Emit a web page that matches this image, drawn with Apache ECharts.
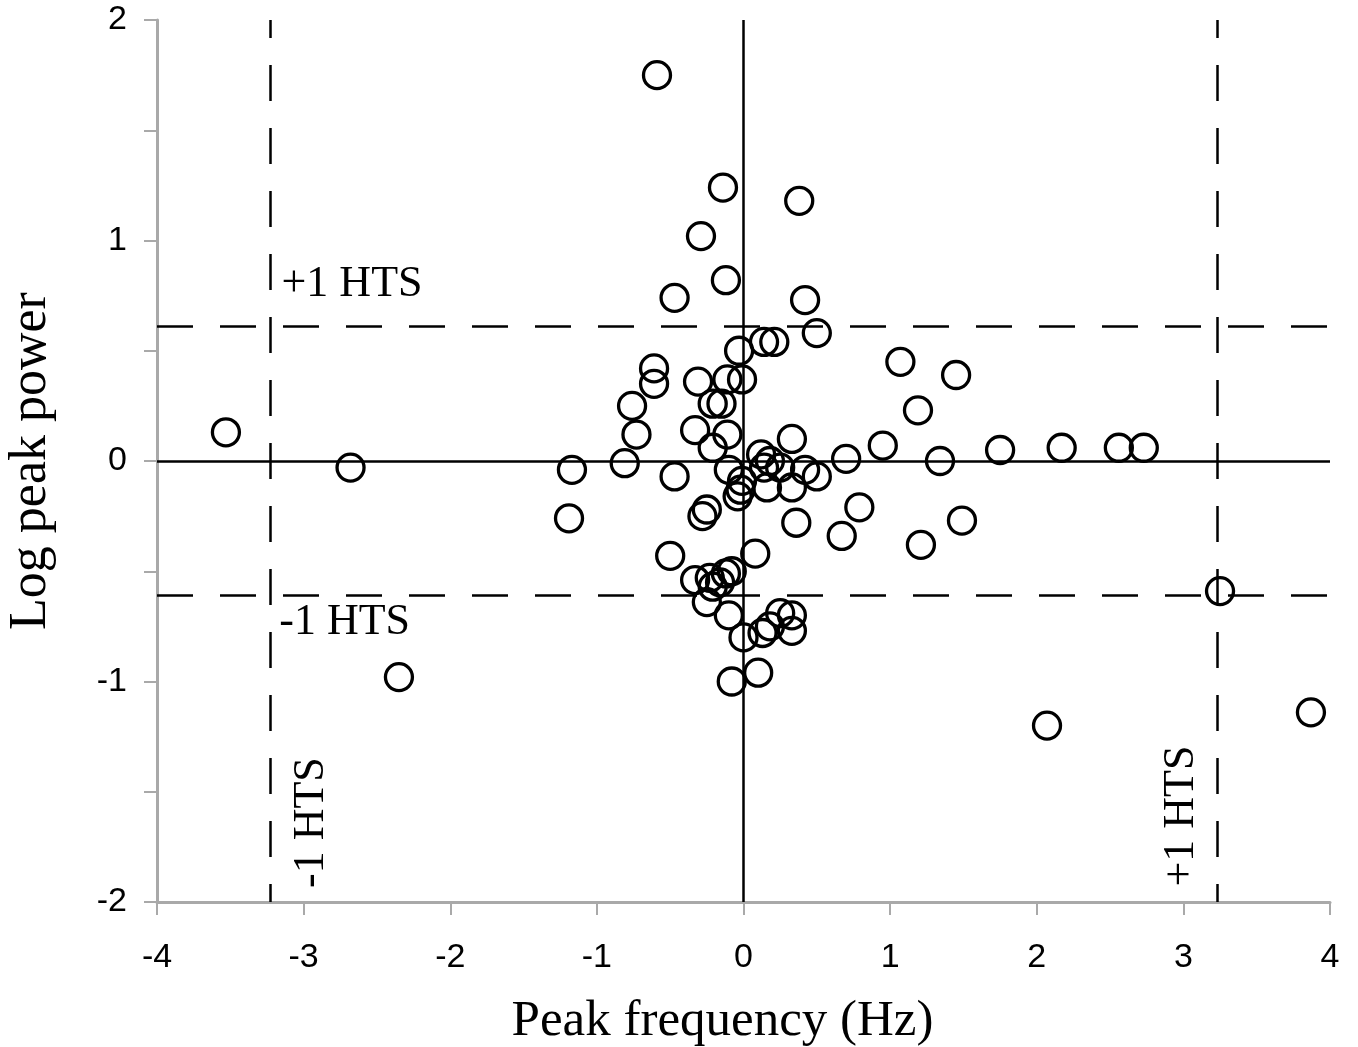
<!DOCTYPE html>
<html><head><meta charset="utf-8">
<script src="https://cdn.jsdelivr.net/npm/echarts@6/dist/echarts.min.js"></script>
<style>html,body{margin:0;padding:0;background:#fff}#c{width:1358px;height:1047px}</style>
</head><body><div id="c"></div>
<script>
const peakFreq = [-0.59,-0.14,0.38,-0.29,-0.12,-0.47,0.42,0.50,0.14,0.21,-0.03,1.07,1.45,-0.61,-0.61,-0.31,-0.11,-0.01,-0.21,-0.15,-0.76,1.19,-0.73,-0.33,-0.11,-0.21,0.33,-3.53,-2.68,-1.17,-1.19,-0.81,-0.47,0.95,0.70,1.75,2.17,2.56,2.73,1.34,0.12,0.18,0.14,0.25,0.42,0.50,-0.01,-0.02,0.16,0.33,-0.04,-0.10,-0.25,-0.28,0.36,0.79,0.67,1.49,1.21,-0.50,0.08,-0.33,-0.23,-0.16,-0.12,-0.08,-0.21,-0.25,-0.10,0.25,0.33,0.33,0.13,0.18,0.00,0.10,-0.08,3.25,-2.35,2.07,3.87];
const logPower = [1.75,1.24,1.18,1.02,0.82,0.74,0.73,0.58,0.54,0.54,0.50,0.45,0.39,0.42,0.35,0.36,0.37,0.37,0.26,0.26,0.25,0.23,0.12,0.14,0.12,0.06,0.10,0.13,-0.03,-0.04,-0.26,-0.01,-0.07,0.07,0.01,0.05,0.06,0.06,0.06,0.00,0.03,0.00,-0.03,-0.03,-0.04,-0.07,-0.09,-0.13,-0.12,-0.12,-0.16,-0.04,-0.22,-0.25,-0.28,-0.21,-0.34,-0.27,-0.38,-0.43,-0.42,-0.54,-0.53,-0.55,-0.51,-0.50,-0.57,-0.64,-0.70,-0.69,-0.70,-0.77,-0.78,-0.75,-0.80,-0.96,-1.00,-0.59,-0.98,-1.20,-1.14];
const htsFreq = 3.23;
const htsPower = 0.612;
const xTicks = [-4,-3,-2,-1,0,1,2,3,4];
const yTicks = [-2,-1,0,1,2];
const htsLabels = [
  {text:'+1 HTS', x:-2.67, y:0.80, rot:0},
  {text:'-1 HTS', x:-2.72, y:-0.73, rot:0},
  {text:'-1 HTS', x:-2.95, y:-1.64, rot:90},
  {text:'+1 HTS', x:2.99, y:-1.61, rot:90}
];

const pts = peakFreq.map((v,i)=>[v, logPower[i]]);
const chart = echarts.init(document.getElementById('c'));
const axisGray = '#a9a9a9';
const dash = {type:[36,27],dashOffset:0,color:'#000',width:2.5};
chart.setOption({
  animation:false,
  backgroundColor:'#fff',
  grid:{left:157,right:28,top:20,bottom:145,containLabel:false,outerBoundsMode:'none'},
  xAxis:{type:'value',min:xTicks[0],max:xTicks[xTicks.length-1],interval:1,
    name:'Peak frequency (Hz)',nameLocation:'middle',nameGap:94,
    nameTextStyle:{fontFamily:'Liberation Serif',fontSize:51,color:'#000',padding:[0,42,0,0]},
    axisLine:{show:true,onZero:false,lineStyle:{color:axisGray,width:3}},
    axisTick:{show:true,length:13,lineStyle:{color:axisGray,width:2}},
    axisLabel:{fontFamily:'Liberation Sans',fontSize:34,fontWeight:500,color:'#000',margin:39},
    splitLine:{show:false}},
  yAxis:{type:'value',min:yTicks[0],max:yTicks[yTicks.length-1],interval:0.5,
    name:'Log peak power',nameLocation:'middle',nameGap:100,
    nameTextStyle:{fontFamily:'Liberation Serif',fontSize:52,color:'#000'},
    axisLine:{show:true,onZero:false,lineStyle:{color:axisGray,width:3}},
    axisTick:{show:true,length:13,lineStyle:{color:axisGray,width:2}},
    axisLabel:{fontFamily:'Liberation Sans',fontSize:34,fontWeight:500,color:'#000',margin:30,
      formatter:v=>Number.isInteger(v)?String(v):''},
    splitLine:{show:false}},
  series:[
    {type:'scatter',data:pts,symbol:'circle',symbolSize:27,z:5,
      itemStyle:{color:'rgba(0,0,0,0)',borderColor:'#000',borderWidth:3.3,opacity:1},
      markLine:{silent:true,symbol:'none',label:{show:false},animation:false,
        data:[
          {xAxis:0,lineStyle:{type:'solid',color:'#000',width:2.5}},
          {yAxis:0,lineStyle:{type:'solid',color:'#000',width:2.5}},
          {xAxis:-htsFreq,lineStyle:Object.assign({},dash,{dashOffset:18})},
          {xAxis:htsFreq,lineStyle:Object.assign({},dash,{dashOffset:18})},
          {yAxis:htsPower,lineStyle:dash},
          {yAxis:-htsPower,lineStyle:dash}
        ]}},
    {type:'scatter',symbolSize:0,silent:true,z:6,itemStyle:{opacity:1},
      data:htsLabels.map(l=>({value:[l.x,l.y],label:{show:true,formatter:l.text,rotate:l.rot,position:'inside',
        fontFamily:'Liberation Serif',fontSize:44,color:'#000',opacity:1}}))}
  ]
});
</script></body></html>
